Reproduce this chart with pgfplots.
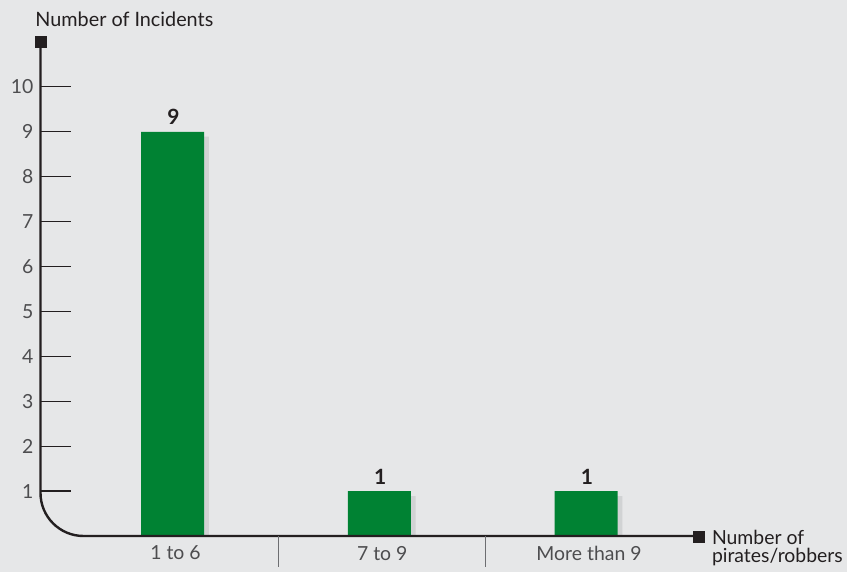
\documentclass[border=0pt]{standalone}
\usepackage{pgfplots}
\pgfplotsset{compat=1.18}
\usepackage{fontspec}
\setmainfont{Lato}

\definecolor{bg}{HTML}{E6E7E8}
\definecolor{barshadow}{HTML}{D1D3D4}
\definecolor{bargreen}{HTML}{008233}
\definecolor{axiscol}{HTML}{231F20}
\definecolor{labelgray}{HTML}{4D4D4F}
\definecolor{sepcol}{HTML}{6D6E71}

\newcommand{\lblfont}{\fontsize{9.7}{11.6}\selectfont}
\newcommand{\titlefont}{\fontsize{9.9}{12}\selectfont}

\begin{document}
\begin{tikzpicture}
\fill[bg] (0,0) rectangle (423.5pt,286pt);
\useasboundingbox (0,0) rectangle (423.5pt,286pt);
\begin{axis}[
  at={(20.25pt,18pt)}, anchor=south west,
  scale only axis, width=326.25pt, height=247pt,
  xmin=-0.653, xmax=2.503, ymin=0, ymax=11,
  axis x line=bottom, axis y line=left,
  axis line style={draw=none},
  /pgf/number format/assume math mode=true,
  ytick={1,...,10},
  tick align=inside, major tick length=15.25pt,
  ytick style={line width=0.6pt, draw=axiscol},
  xtick={0,1,2},
  xticklabels={1 to 6, 7 to 9, More than 9},
  xtick style={draw=none},
  tick label style={font=\lblfont, text=labelgray},
  xticklabel style={yshift=-1.5pt},
  clip mode=individual,
]
% drop shadow behind each bar
\addplot[ybar, bar width=31.5pt, bar shift=0.9pt, fill=barshadow, draw=none]
  coordinates {(0,8.89) (1,0.89) (2,0.89)};
% incident counts
\addplot[ybar, bar width=31.5pt, bar shift=-1.5pt, fill=bargreen, draw=none,
  nodes near coords,
  nodes near coords style={font=\fontsize{10.5}{12}\selectfont\bfseries, text=axiscol, xshift=-1pt}]
  coordinates {(0,9) (1,1) (2,1)};

% axis lines with rounded corner and square end caps
\draw[axiscol, line width=1.2pt, rounded corners=21.5pt]
  (axis cs:-0.653,11) -- (axis cs:-0.653,0) -- (axis cs:2.503,0);
\node[fill=axiscol, minimum size=6pt, inner sep=0pt, xshift=0.25pt] at (axis cs:-0.653,11) {};
\node[fill=axiscol, minimum size=6pt, inner sep=0pt, xshift=3pt, yshift=-0.5pt] at (axis cs:2.503,0) {};

% category separators
\draw[sepcol, line width=0.6pt] (axis cs:0.5,0) -- ++(0pt,-15.5pt);
\draw[sepcol, line width=0.6pt] (axis cs:1.5,0) -- ++(0pt,-15.5pt);

% axis titles
\node[anchor=base west, inner sep=0pt, xshift=-2.75pt, yshift=7.5pt, text=axiscol, font=\titlefont]
  at (axis cs:-0.653,11) {Number of Incidents};
\node[anchor=base west, inner sep=0pt, xshift=9.3pt, yshift=-4.5pt, text=axiscol, font=\lblfont]
  at (axis cs:2.503,0) {Number of};
\node[anchor=base west, inner sep=0pt, xshift=9.3pt, yshift=-13.5pt, text=axiscol, font=\lblfont]
  at (axis cs:2.503,0) {pirates/robbers};
\end{axis}
\end{tikzpicture}
\end{document}
